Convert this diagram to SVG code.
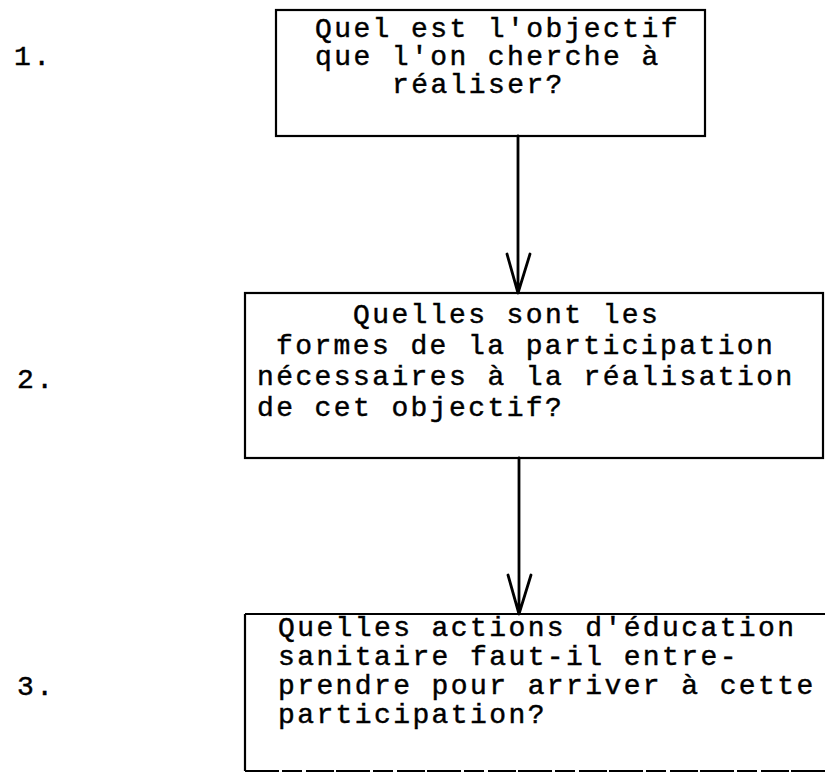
<svg xmlns="http://www.w3.org/2000/svg" width="825" height="775" viewBox="0 0 825 775">
  <style>
    .bg { fill: #ffffff; }
    .box { fill: none; stroke: #000; stroke-width: 2.2; }
    .rule { fill: none; stroke: #000; stroke-width: 2.2; stroke-dasharray: 34 3 20 4 28 2; }
    .edge { fill: none; stroke: #000; stroke-width: 2.8; stroke-linecap: round; stroke-linejoin: round; }
    .t { font-family: "Liberation Mono", "Courier New", monospace; font-size: 28px; letter-spacing: 2.4px; fill: #000; stroke: #000; stroke-width: 0.45px; }
  </style>
  <rect class="bg" x="0" y="0" width="825" height="775"/>

  <!-- step numbers -->
  <text class="t" x="14" y="65">1.</text>
  <text class="t" x="17" y="388">2.</text>
  <text class="t" x="17" y="695">3.</text>

  <!-- step 1 -->
  <g id="node1">
    <rect class="box" x="276" y="10" width="429" height="126"/>
    <text class="t" x="315" y="37">Quel est l'objectif</text>
    <text class="t" x="315" y="65">que l'on cherche à</text>
    <text class="t" x="392" y="93">réaliser?</text>
  </g>

  <!-- step 2 -->
  <g id="node2">
    <rect class="box" x="245" y="293" width="578" height="165"/>
    <text class="t" x="353" y="323">Quelles sont les</text>
    <text class="t" x="276" y="354">formes de la participation</text>
    <text class="t" x="257" y="385">nécessaires à la réalisation</text>
    <text class="t" x="257" y="416">de cet objectif?</text>
  </g>

  <!-- step 3 (open on the right, broken rule at the bottom) -->
  <g id="node3">
    <path class="box" d="M245,614 H825 M245,614 V771"/>
    <path class="rule" d="M245,771 H825"/>
    <text class="t" x="278" y="636">Quelles actions d'éducation</text>
    <text class="t" x="278" y="665">sanitaire faut-il entre-</text>
    <text class="t" x="278" y="694">prendre pour arriver à cette</text>
    <text class="t" x="278" y="723">participation?</text>
  </g>

  <!-- connectors -->
  <g id="edges">
    <path class="edge" d="M518,136 V293 M507,254 L518,293 L530,254"/>
    <path class="edge" d="M519,458 V614 M508,575 L519,614 L531,575"/>
  </g>
</svg>
